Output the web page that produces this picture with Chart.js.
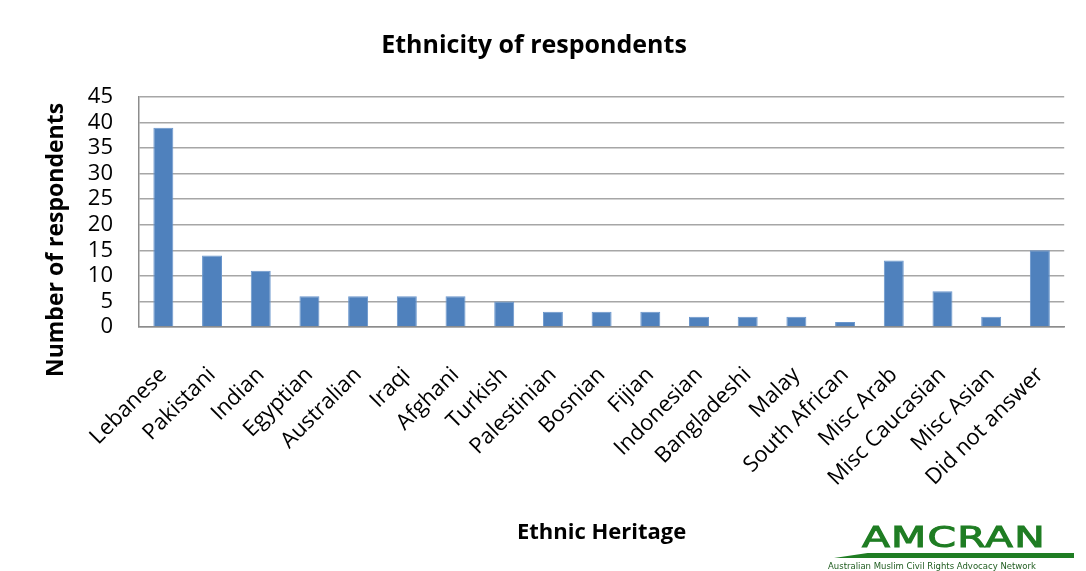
<!DOCTYPE html>
<html>
<head>
<meta charset="utf-8">
<title>Ethnicity of respondents</title>
<script src="https://cdn.jsdelivr.net/npm/chart.js@4.4.1/dist/chart.umd.min.js"></script>
<style>
    html, body {
        margin: 0;
        padding: 0;
        background: #ffffff;
    }
    .chart-wrap {
        position: relative;
        width: 1086px;
        height: 571px;
        overflow: hidden;
    }
    .logo {
        position: absolute;
        left: 828px;
        top: 518px;
        width: 258px;
        height: 53px;
        color: #1f7d23;
        font-family: "DejaVu Sans", sans-serif;
    }
    .logo .brand {
        position: absolute;
        left: 34px;
        top: 4px;
        font-size: 34px;
        font-weight: normal;
        letter-spacing: 1px;
        line-height: 34px;
        -webkit-text-stroke: 1.2px #1f7d23;
        transform: scale(1.2, 0.85);
        transform-origin: left top;
    }
    .logo .bar {
        position: absolute;
        left: 6px;
        top: 35px;
        width: 240px;
        height: 5px;
        background: #1f7d23;
        clip-path: polygon(14% 0, 100% 0, 100% 100%, 0 100%);
    }
    .logo .tag {
        position: absolute;
        left: 0;
        top: 43px;
        font-size: 8.5px;
        white-space: nowrap;
        color: #1f5c1f;
    }
</style>
</head>
<body>
<div class="chart-wrap">
    <canvas id="ethnicityChart" width="1086" height="571"></canvas>
    <div class="logo">
        <div class="brand">AMCRAN</div>
        <div class="bar"></div>
        <div class="tag">Australian Muslim Civil Rights Advocacy Network</div>
    </div>
</div>
<script>
// Survey counts by ethnic heritage
const ethnicities = [
    'Lebanese', 'Pakistani', 'Indian', 'Egyptian', 'Australian', 'Iraqi',
    'Afghani', 'Turkish', 'Palestinian', 'Bosnian', 'Fijian', 'Indonesian',
    'Bangladeshi', 'Malay', 'South African', 'Misc Arab', 'Misc Caucasian',
    'Misc Asian', 'Did not answer'
];
const respondents = [39, 14, 11, 6, 6, 6, 6, 5, 3, 3, 3, 2, 2, 2, 1, 13, 7, 2, 15];
const yTicks = [0, 5, 10, 15, 20, 25, 30, 35, 40, 45];

const chartTitle = 'Ethnicity of respondents';
const xTitle = 'Ethnic Heritage';
const yTitle = 'Number of respondents';

const fontFamily = '"Open Sans", sans-serif';

// Y axis title, drawn by hand so it can sit a little lower than the plot centre
const yTitlePlugin = {
    id: 'yTitle',
    afterDraw(chart) {
        const ctx = chart.ctx;
        ctx.save();
        ctx.translate(56, 240);
        ctx.rotate(-Math.PI / 2);
        ctx.font = 'bold 23px ' + fontFamily;
        ctx.fillStyle = '#000';
        ctx.textAlign = 'center';
        ctx.textBaseline = 'middle';
        ctx.fillText(yTitle, 0, 0);
        ctx.restore();
    }
};

function createBarChart() {
    const chartData = {
        labels: ethnicities,
        datasets: [{
            label: yTitle,
            data: respondents,
            backgroundColor: '#4f81bd',
            borderColor: '#6a96cc',
            borderWidth: 1,
            barPercentage: 0.41,
            categoryPercentage: 1
        }]
    };

    const chartConfig = {
        type: 'bar',
        data: chartData,
        options: {
            responsive: false,
            animation: false,
            layout: {
                padding: { left: 0, right: 18, top: 0, bottom: 0 }
            },
            plugins: {
                legend: { display: false },
                tooltip: { enabled: false },
                title: {
                    display: true,
                    text: chartTitle,
                    color: '#000',
                    font: { family: fontFamily, size: 25, weight: 'bold' },
                    padding: { top: 31, bottom: 36 }
                }
            },
            scales: {
                x: {
                    grid: { display: false },
                    border: { display: true, color: '#8c8c8c', width: 1.5 },
                    ticks: {
                        color: '#000',
                        font: { family: fontFamily, size: 22 },
                        minRotation: 45,
                        maxRotation: 45,
                        autoSkip: false,
                        padding: 27
                    },
                    title: {
                        display: true,
                        text: xTitle,
                        color: '#000',
                        font: { family: fontFamily, size: 22, weight: 'bold' },
                        padding: { top: 0, bottom: 25 }
                    },
                    afterFit(scale) {
                        scale.height = 244;
                    }
                },
                y: {
                    min: 0,
                    max: 45,
                    afterBuildTicks(scale) {
                        scale.ticks = yTicks.map(v => ({ value: v }));
                    },
                    grid: {
                        color: '#a6a6a6',
                        lineWidth: 1.6,
                        drawTicks: false
                    },
                    border: { display: true, color: '#8c8c8c', width: 1.5 },
                    ticks: {
                        color: '#000',
                        font: { family: fontFamily, size: 22 },
                        autoSkip: false,
                        padding: 26
                    },
                    afterFit(scale) {
                        scale.width = 139;
                    }
                }
            }
        },
        plugins: [yTitlePlugin]
    };

    const ctx = document.getElementById('ethnicityChart').getContext('2d');
    new Chart(ctx, chartConfig);
}

createBarChart();
</script>
</body>
</html>
